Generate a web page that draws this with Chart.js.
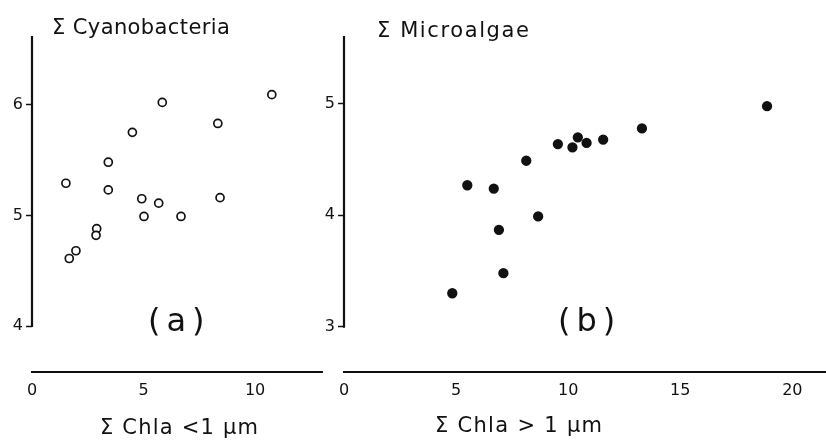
<!DOCTYPE html>
<html>
<head>
<meta charset="utf-8">
<script src="https://cdn.jsdelivr.net/npm/chart.js@4/dist/chart.umd.min.js"></script>
<style>
    html, body { margin: 0; padding: 0; background: #fff; }
    #wrap { position: relative; width: 826px; height: 443px; overflow: hidden; font-family: "DejaVu Sans", sans-serif; color: #111; }
    canvas { position: absolute; top: 0; }
    .txt { position: absolute; white-space: nowrap; line-height: 1; }
</style>
</head>
<body>
<div id="wrap">
    <canvas id="graficoCyano" width="340" height="443" style="left:0;width:340px;height:443px"></canvas>
    <canvas id="graficoMicro" width="526" height="443" style="left:300px;width:526px;height:443px"></canvas>
    <div class="txt" style="left:52px;top:17px;font-size:21px;letter-spacing:0.4px">Σ Cyanobacteria</div>
    <div class="txt" style="left:377px;top:20px;font-size:21px;letter-spacing:1.6px">Σ Microalgae</div>
    <div class="txt" style="left:148px;top:304px;font-size:32px;letter-spacing:6px">(a)</div>
    <div class="txt" style="left:558px;top:304px;font-size:32px;letter-spacing:6px">(b)</div>
    <div class="txt" style="left:100px;top:417px;font-size:21px;letter-spacing:1.2px">Σ Chla &lt;1 μm</div>
    <div class="txt" style="left:435px;top:415px;font-size:21px;letter-spacing:1.3px">Σ Chla &gt; 1 μm</div>
</div>
<script>
// panel (a): cyanobacteria vs Chla < 1 um
const cyanoX = [1.52, 3.42, 3.42, 4.50, 5.84, 8.33, 10.75, 4.92, 5.02, 5.68, 6.68, 8.43, 2.90, 2.87, 1.67, 1.97];
const cyanoY = [5.29, 5.48, 5.23, 5.75, 6.02, 5.83, 6.09, 5.15, 4.99, 5.11, 4.99, 5.16, 4.88, 4.82, 4.61, 4.68];
const cyanoXTicks = [0, 5, 10];
const cyanoYTicks = [4, 5, 6];

// panel (b): microalgae vs Chla > 1 um
const microX = [4.83, 5.50, 6.68, 6.91, 7.11, 8.13, 8.66, 9.54, 10.19, 10.43, 10.82, 11.56, 13.29, 18.87];
const microY = [3.30, 4.27, 4.24, 3.87, 3.48, 4.49, 3.99, 4.64, 4.61, 4.70, 4.65, 4.68, 4.78, 4.98];
const microXTicks = [0, 5, 10, 15, 20];
const microYTicks = [3, 4, 5];

const fonteTicks = { family: '"DejaVu Sans", sans-serif', size: 16 };

// draws the y axis line only from the lowest tick up to the top
const eixoYPlugin = {
    id: 'eixoY',
    afterDraw(chart) {
        const y = chart.scales.y;
        const ctx = chart.ctx;
        const base = y.getPixelForValue(y.ticks[0].value);
        ctx.save();
        ctx.strokeStyle = '#111';
        ctx.lineWidth = 2.2;
        ctx.beginPath();
        ctx.moveTo(chart.chartArea.left, base + 1);
        ctx.lineTo(chart.chartArea.left, chart.chartArea.top);
        ctx.stroke();
        ctx.restore();
    }
};

function criarGrafico(id, xs, ys, xTicks, yTicks, limites, larguraY, padRight, cheio) {
    const ctx = document.getElementById(id);
    const pontos = xs.map((x, i) => ({ x: x, y: ys[i] }));

    new Chart(ctx, {
        type: 'scatter',
        data: {
            datasets: [{
                data: pontos,
                pointStyle: 'circle',
                pointRadius: cheio ? 4.3 : 4,
                pointBorderWidth: 1.7,
                pointBorderColor: '#111',
                pointBackgroundColor: cheio ? '#111' : '#fff'
            }]
        },
        options: {
            responsive: false,
            animation: false,
            events: [],
            layout: {
                autoPadding: false,
                padding: { top: 36, right: padRight, bottom: 0, left: 0 }
            },
            plugins: {
                legend: { display: false },
                tooltip: { enabled: false }
            },
            scales: {
                x: {
                    type: 'linear',
                    min: limites.xMin,
                    max: limites.xMax,
                    afterFit: s => { s.height = 71; },
                    afterBuildTicks: s => { s.ticks = xTicks.map(v => ({ value: v })); },
                    grid: { display: false },
                    border: { display: true, color: '#111', width: 2 },
                    ticks: { color: '#111', font: fonteTicks, padding: 1, maxRotation: 0 }
                },
                y: {
                    type: 'linear',
                    min: limites.yMin,
                    max: limites.yMax,
                    afterFit: s => { s.width = larguraY; },
                    afterBuildTicks: s => { s.ticks = yTicks.map(v => ({ value: v })); },
                    grid: {
                        drawOnChartArea: false,
                        drawTicks: true,
                        tickLength: 6,
                        tickColor: '#111',
                        tickWidth: 1.5
                    },
                    border: { display: false },
                    ticks: { color: '#111', font: fonteTicks, padding: 3 }
                }
            }
        },
        plugins: [eixoYPlugin]
    });
}

document.addEventListener('DOMContentLoaded', function() {
    criarGrafico('graficoCyano', cyanoX, cyanoY, cyanoXTicks, cyanoYTicks,
        { xMin: 0, xMax: 13, yMin: 3.585, yMax: 6.62 }, 32, 18, false);
    criarGrafico('graficoMicro', microX, microY, microXTicks, microYTicks,
        { xMin: 0, xMax: 21.5, yMin: 2.593, yMax: 5.61 }, 44, 0, true);
});
</script>
</body>
</html>
